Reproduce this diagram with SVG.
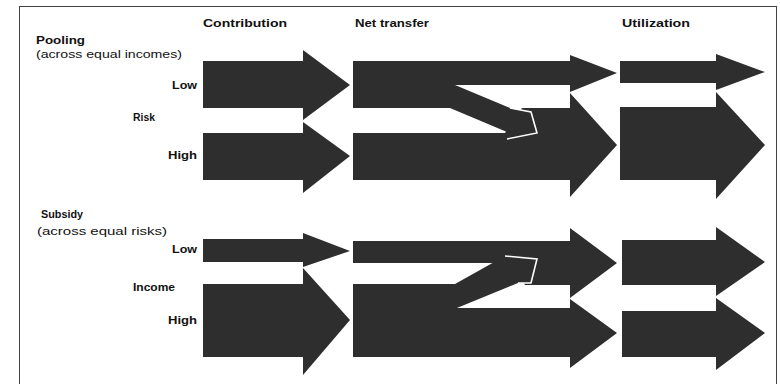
<svg xmlns="http://www.w3.org/2000/svg" width="780" height="384" viewBox="0 0 780 384">
<style>
  .a { fill: #2e2e2e; }
  .hl { fill: none; stroke: #ffffff; stroke-width: 1.6; stroke-linejoin: miter; }
  .h { font-family: "Liberation Sans", Arial, sans-serif; font-weight: bold; font-size: 11.5px; fill: #111; }
  .t { font-family: "Liberation Sans", Arial, sans-serif; font-size: 11px; fill: #111; }
  .b { font-family: "Liberation Sans", Arial, sans-serif; font-weight: bold; font-size: 11.5px; fill: #111; }
  .frame { fill: none; stroke: #444; stroke-width: 1; }
</style>
<rect x="0" y="0" width="780" height="384" fill="#ffffff"/>
<rect class="frame" x="19.5" y="6.5" width="757" height="390"/>

<g id="headers">
  <text class="h" x="203" y="27" textLength="84" lengthAdjust="spacingAndGlyphs">Contribution</text>
  <text class="h" x="355" y="27" textLength="74" lengthAdjust="spacingAndGlyphs">Net transfer</text>
  <text class="h" x="622" y="27" textLength="68" lengthAdjust="spacingAndGlyphs">Utilization</text>
</g>

<g id="pooling-labels">
  <text class="h" x="36" y="44" textLength="49" lengthAdjust="spacingAndGlyphs">Pooling</text>
  <text class="t" x="36" y="58" textLength="146" lengthAdjust="spacingAndGlyphs">(across equal incomes)</text>
  <text class="b" x="197" y="89" text-anchor="end" textLength="25" lengthAdjust="spacingAndGlyphs">Low</text>
  <text class="b" x="133" y="121" textLength="22" lengthAdjust="spacingAndGlyphs">Risk</text>
  <text class="b" x="197" y="159" text-anchor="end" textLength="29" lengthAdjust="spacingAndGlyphs">High</text>
</g>

<g id="subsidy-labels">
  <text class="h" x="41" y="218" textLength="42" lengthAdjust="spacingAndGlyphs">Subsidy</text>
  <text class="t" x="37" y="235" textLength="130" lengthAdjust="spacingAndGlyphs">(across equal risks)</text>
  <text class="b" x="197" y="253" text-anchor="end" textLength="25" lengthAdjust="spacingAndGlyphs">Low</text>
  <text class="b" x="133" y="291" textLength="42" lengthAdjust="spacingAndGlyphs">Income</text>
  <text class="b" x="197" y="324" text-anchor="end" textLength="29" lengthAdjust="spacingAndGlyphs">High</text>
</g>

<g id="connectors">
  <!-- Pooling: contribution -->
  <g id="pool-contrib-low"><polygon class="a" points="203,61 303,61 303,50 350,85 303,120 303,108 203,108"/></g>
  <g id="pool-contrib-high"><polygon class="a" points="203,133 303,133 303,122 350,156 303,193 303,180 203,180"/></g>
  <!-- Pooling: net transfer -->
  <g id="pool-net-high"><polygon class="a" points="353,133 505,133 522,108 570,108 570,93 617,145 570,197 570,180 353,180"/></g>
  <g id="pool-net-low"><polygon class="a" points="353,61 570,61 570,55 617,73 570,92 570,85 455,85 455,108 353,108"/></g>
  <g id="pool-net-diag">
    <polygon class="a" points="448,85 455,85 510,108 531,112 537,133 507,139 507,132 450,108 448,108"/>
    <polyline class="hl" points="510,108 531,112 537,133 507,139"/>
  </g>
  <!-- Pooling: utilization -->
  <g id="pool-util-low"><polygon class="a" points="620,61 716,61 716,54 765,72 716,90 716,83 620,83"/></g>
  <g id="pool-util-high"><polygon class="a" points="620,107 716,107 716,92 765,145 716,199 716,180 620,180"/></g>

  <!-- Subsidy: contribution -->
  <g id="sub-contrib-low"><polygon class="a" points="203,239 303,239 303,233 350,251 303,267 303,262 203,262"/></g>
  <g id="sub-contrib-high"><polygon class="a" points="203,284 303,284 303,268 350,320 303,375 303,357 203,357"/></g>
  <!-- Subsidy: net transfer -->
  <g id="sub-net-low"><polygon class="a" points="353,241 570,241 570,228 617,263 570,298 570,285 525,285 510,263 353,263"/></g>
  <g id="sub-net-high"><polygon class="a" points="353,284 452,284 452,308 570,308 570,299 617,333 570,368 570,357 353,357"/></g>
  <g id="sub-net-diag">
    <polygon class="a" points="445,284 455,284 505,256 537,259 531,283 518,283 452,310 445,310"/>
    <polyline class="hl" points="505,256 537,259 531,283 518,283"/>
  </g>
  <!-- Subsidy: utilization -->
  <g id="sub-util-low"><polygon class="a" points="622,240 716,240 716,227 765,262 716,296 716,285 622,285"/></g>
  <g id="sub-util-high"><polygon class="a" points="622,311 716,311 716,298 765,333 716,370 716,357 622,357"/></g>
</g>
</svg>
